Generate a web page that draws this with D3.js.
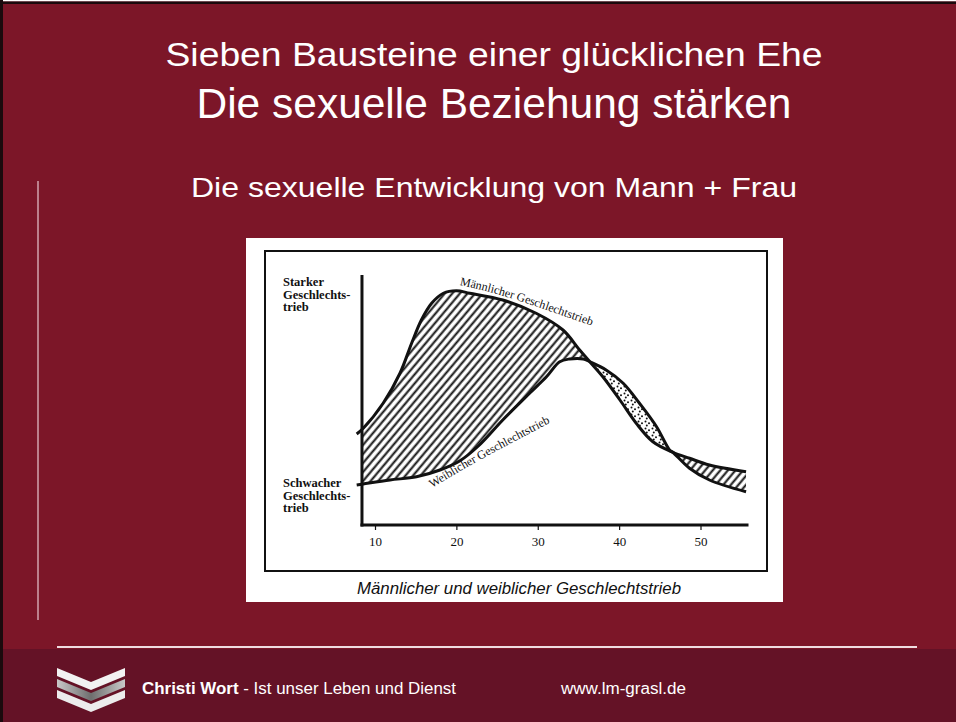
<!DOCTYPE html>
<html>
<head>
<meta charset="utf-8">
<script src="https://cdn.jsdelivr.net/npm/d3@7"></script>
<style>
  body { margin: 0; background: #fff; }
  svg { display: block; }
</style>
</head>
<body>
<svg id="slide" width="956" height="722"></svg>
<script>
// titles
var titleLines = ['Sieben Bausteine einer glücklichen Ehe', 'Die sexuelle Beziehung stärken'];
var subTitle = 'Die sexuelle Entwicklung von Mann + Frau';
var caption = 'Männlicher und weiblicher Geschlechtstrieb';

// curve data: age (years) and drive (0 = weak, 100 = strong)
var maleAges  = [7.75, 8.56, 11.0, 13.07, 14.5, 15.7, 16.96, 18.4, 20.0, 21.65, 25.7, 29.8, 33.1, 35.15, 36.4, 38.0, 40.1, 42.1, 44.15, 46.6, 48.65, 51.1, 55.6];
var maleDrive = [36.4, 38.7, 48.7, 60.7, 72.7, 82.0, 88.7, 92.7, 93.7, 92.7, 90.0, 84.7, 78.0, 70.0, 65.3, 59.3, 50.0, 40.7, 33.3, 29.1, 26.7, 24.0, 21.3];
var femaleAges  = [7.75, 8.56, 11.84, 15.1, 17.98, 20.4, 22.7, 25.7, 29.0, 31.07, 32.7, 33.9, 35.6, 36.4, 38.4, 40.5, 42.5, 44.6, 46.2, 46.6, 48.65, 51.1, 55.6];
var femaleDrive = [16.0, 16.4, 18.0, 19.3, 22.0, 25.6, 31.6, 42.0, 52.7, 59.3, 65.3, 66.4, 66.4, 65.3, 62.0, 56.7, 48.7, 39.3, 30.0, 29.1, 22.7, 18.0, 13.3];

var tickAges = [10, 20, 30, 40, 50];
var xAxisExtent = [8.4, 55.9];
var yAxisExtent = [0, 100];
var strongLabel = ['Starker', 'Geschlechts-', 'trieb'];
var weakLabel = ['Schwacher', 'Geschlechts-', 'trieb'];

// label guide lines (age, drive) for the curved curve names
var maleLabel = 'Männlicher Geschlechtstrieb';
var maleLabelAges = [20.4, 26.6, 36.7];
var maleLabelDrive = [96.0, 90.8, 79.6];
var femaleLabel = 'Weiblicher Geschlechtstrieb';
var femaleLabelAges = [17.0, 22.9, 31.9];
var femaleLabelDrive = [14.8, 26.0, 41.6];

var footerBold = 'Christi Wort';
var footerRest = ' - Ist unser Leben und Dienst';
var footerUrl = 'www.lm-grasl.de';

var svg = d3.select('#slide');
var width = +svg.attr('width'), height = +svg.attr('height');

// slide background
svg.append('rect').attr('x', 0).attr('y', 0).attr('width', width).attr('height', height).attr('fill', '#7c1628');
svg.append('rect').attr('x', 0).attr('y', 649).attr('width', width).attr('height', height - 649).attr('fill', '#641226');
svg.append('rect').attr('x', 0).attr('y', 0).attr('width', width).attr('height', 1.5).attr('fill', '#fff');
svg.append('rect').attr('x', 0).attr('y', 1.5).attr('width', width).attr('height', 2.5).attr('fill', '#1a0a0d');
svg.append('rect').attr('x', 0).attr('y', 0).attr('width', 3).attr('height', height).attr('fill', '#1a0a0d');

svg.append('line').attr('x1', 38).attr('x2', 38).attr('y1', 181).attr('y2', 620)
    .attr('stroke', '#e9c9cf').attr('stroke-width', 1.5).attr('opacity', 0.8);
svg.append('line').attr('x1', 57).attr('x2', 917).attr('y1', 647).attr('y2', 647)
    .attr('stroke', '#efdde0').attr('stroke-width', 2);

// headings, squeezed to the widths of the original slide
var headings = [
    {text: titleLines[0], size: 34, y: 66, w: 657},
    {text: titleLines[1], size: 42, y: 118, w: 595},
    {text: subTitle, size: 28.5, y: 197, w: 606}
];
svg.selectAll('text.head')
    .data(headings)
    .enter().append('text')
    .attr('class', 'head')
    .attr('x', 494)
    .attr('y', function(d) { return d.y; })
    .attr('text-anchor', 'middle')
    .attr('textLength', function(d) { return d.w; })
    .attr('lengthAdjust', 'spacingAndGlyphs')
    .style('font-family', 'Liberation Sans, Arial, sans-serif')
    .style('font-size', function(d) { return d.size + 'px'; })
    .style('fill', '#fff')
    .text(function(d) { return d.text; });

// the scanned figure
svg.append('rect').attr('x', 246).attr('y', 238).attr('width', 537).attr('height', 364).attr('fill', '#fff');
svg.append('rect').attr('x', 265).attr('y', 251).attr('width', 502).attr('height', 320)
    .attr('fill', 'none').attr('stroke', '#111').attr('stroke-width', 2);

var x = d3.scaleLinear().domain([10, 50]).range([375, 700.5]);
var y = d3.scaleLinear().domain([0, 100]).range([525, 275]);

var defs = svg.append('defs');

var hatch = defs.append('pattern')
    .attr('id', 'hatch')
    .attr('patternUnits', 'userSpaceOnUse')
    .attr('width', 5.8).attr('height', 10)
    .attr('patternTransform', 'rotate(40)');
hatch.append('line').attr('x1', 1.5).attr('x2', 1.5).attr('y1', -1).attr('y2', 11)
    .attr('stroke', '#111').attr('stroke-width', 2);

var dots = defs.append('pattern')
    .attr('id', 'dots')
    .attr('patternUnits', 'userSpaceOnUse')
    .attr('width', 7).attr('height', 7);
dots.selectAll('circle')
    .data([[1.5, 1.5], [5, 3.2], [2.8, 5.6]])
    .enter().append('circle')
    .attr('cx', function(d) { return d[0]; })
    .attr('cy', function(d) { return d[1]; })
    .attr('r', 1)
    .attr('fill', '#111');

var male = d3.zip(maleAges, maleDrive);
var female = d3.zip(femaleAges, femaleDrive);

var curve = d3.curveCatmullRom.alpha(0.5);
var line = d3.line().x(function(d) { return x(d[0]); }).y(function(d) { return y(d[1]); }).curve(curve);
var areaDown = d3.area().x(function(d) { return x(d[0]); }).y0(y(yAxisExtent[0])).y1(function(d) { return y(d[1]); }).curve(curve);
var areaUp = d3.area().x(function(d) { return x(d[0]); }).y0(y(yAxisExtent[1]) - 20).y1(function(d) { return y(d[1]); }).curve(curve);

defs.append('clipPath').attr('id', 'belowMale').append('path').attr('d', areaDown(male));
defs.append('clipPath').attr('id', 'aboveMale').append('path').attr('d', areaUp(male));
defs.append('clipPath').attr('id', 'belowFemale').append('path').attr('d', areaDown(female));
defs.append('clipPath').attr('id', 'aboveFemale').append('path').attr('d', areaUp(female));

var plotX0 = x(xAxisExtent[0]), plotX1 = x(xAxisExtent[1]);

// male above female -> hatched
svg.append('g').attr('clip-path', 'url(#belowMale)')
    .append('rect')
    .attr('clip-path', 'url(#aboveFemale)')
    .attr('x', plotX0).attr('y', y(yAxisExtent[1]))
    .attr('width', plotX1 - plotX0).attr('height', y(0) - y(yAxisExtent[1]))
    .attr('fill', 'url(#hatch)');

// female above male -> dotted
svg.append('g').attr('clip-path', 'url(#aboveMale)')
    .append('rect')
    .attr('clip-path', 'url(#belowFemale)')
    .attr('x', plotX0).attr('y', y(yAxisExtent[1]))
    .attr('width', plotX1 - plotX0).attr('height', y(0) - y(yAxisExtent[1]))
    .attr('fill', 'url(#dots)');

svg.selectAll('path.drive')
    .data([male, female])
    .enter().append('path')
    .attr('class', 'drive')
    .attr('d', line)
    .attr('fill', 'none')
    .attr('stroke', '#111')
    .attr('stroke-width', 3)
    .attr('stroke-linejoin', 'round');

// axes
svg.append('line')
    .attr('x1', plotX0).attr('x2', plotX0)
    .attr('y1', y(yAxisExtent[1])).attr('y2', y(0) + 1.5)
    .attr('stroke', '#111').attr('stroke-width', 3);
svg.append('line')
    .attr('x1', plotX0 - 1.5).attr('x2', plotX1)
    .attr('y1', y(0)).attr('y2', y(0))
    .attr('stroke', '#111').attr('stroke-width', 3);

var xAxis = svg.append('g')
    .attr('transform', 'translate(0,' + y(0) + ')')
    .call(d3.axisBottom(x).tickValues(tickAges).tickSize(5).tickPadding(7).tickFormat(d3.format('d')));
xAxis.select('.domain').remove();
xAxis.selectAll('line').attr('stroke', '#111').attr('stroke-width', 1.2);
xAxis.selectAll('text')
    .style('font-family', 'Liberation Serif, Times New Roman, serif')
    .style('font-size', '13px')
    .style('fill', '#111');

// side labels
function sideLabel(lines, top) {
    svg.append('g').selectAll('text')
        .data(lines)
        .enter().append('text')
        .attr('x', 283)
        .attr('y', function(d, i) { return top + i * 12.5; })
        .style('font-family', 'Liberation Serif, Times New Roman, serif')
        .style('font-size', '12.5px')
        .style('font-weight', 'bold')
        .attr('fill', '#111')
        .text(function(d) { return d; });
}
sideLabel(strongLabel, 286);
sideLabel(weakLabel, 487);

// curve names along guide paths
var guide = d3.line().x(function(d) { return x(d[0]); }).y(function(d) { return y(d[1]); }).curve(d3.curveNatural);
defs.append('path').attr('id', 'maleGuide').attr('d', guide(d3.zip(maleLabelAges, maleLabelDrive)));
defs.append('path').attr('id', 'femaleGuide').attr('d', guide(d3.zip(femaleLabelAges, femaleLabelDrive)));

[['maleGuide', maleLabel], ['femaleGuide', femaleLabel]].forEach(function(p) {
    svg.append('text')
        .style('font-family', 'Liberation Serif, Times New Roman, serif')
        .style('font-size', '12px')
        .attr('fill', '#111')
        .append('textPath')
        .attr('href', '#' + p[0])
        .text(p[1]);
});

svg.append('text')
    .attr('x', 519).attr('y', 594)
    .attr('text-anchor', 'middle')
    .attr('textLength', 324)
    .attr('lengthAdjust', 'spacingAndGlyphs')
    .style('font-family', 'Liberation Sans, Arial, sans-serif')
    .style('font-style', 'italic')
    .style('font-size', '16px')
    .attr('fill', '#111')
    .text(caption);

// footer logo: three stacked chevrons
var grad = defs.append('linearGradient').attr('id', 'chevGrey');
grad.append('stop').attr('offset', '0%').attr('stop-color', '#c8c8c8');
grad.append('stop').attr('offset', '50%').attr('stop-color', '#6e6e6e');
grad.append('stop').attr('offset', '100%').attr('stop-color', '#c8c8c8');

var chevrons = [{dy: 0, c: '#f2f2f2'}, {dy: 11, c: 'url(#chevGrey)'}, {dy: 22, c: '#ececec'}];
svg.append('g').selectAll('path')
    .data(chevrons)
    .enter().append('path')
    .attr('d', function(d) {
        var t = 668 + d.dy;
        return 'M57,' + t + ' L91,' + (t + 14) + ' L125,' + t + ' L125,' + (t + 8) + ' L91,' + (t + 22) + ' L57,' + (t + 8) + 'Z';
    })
    .attr('fill', function(d) { return d.c; });

var foot = svg.append('text')
    .attr('x', 142).attr('y', 694)
    .attr('textLength', 314)
    .attr('lengthAdjust', 'spacingAndGlyphs')
    .style('font-family', 'Liberation Sans, Arial, sans-serif')
    .style('font-size', '16px')
    .attr('fill', '#fff');
foot.append('tspan').style('font-weight', 'bold').text(footerBold);
foot.append('tspan').text(footerRest);

svg.append('text')
    .attr('x', 561).attr('y', 694)
    .attr('textLength', 125)
    .attr('lengthAdjust', 'spacingAndGlyphs')
    .style('font-family', 'Liberation Sans, Arial, sans-serif')
    .style('font-size', '16px')
    .attr('fill', '#fff')
    .text(footerUrl);
</script>
</body>
</html>
